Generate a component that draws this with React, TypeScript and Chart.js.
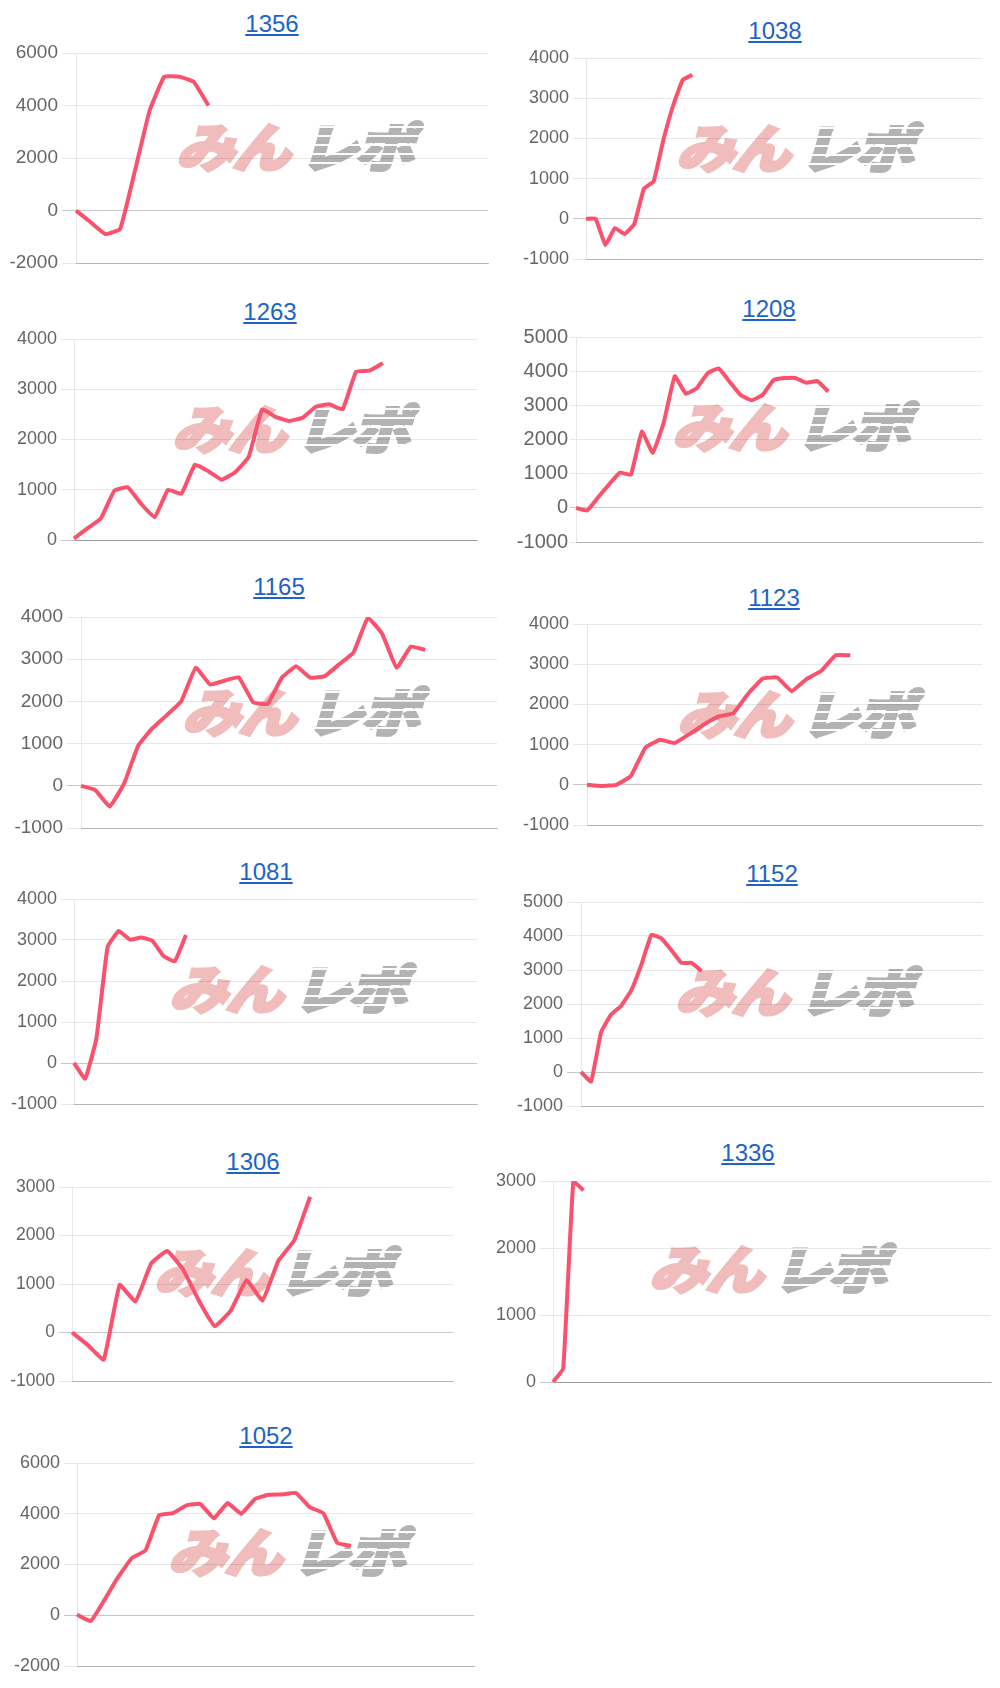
import React, { useEffect, useRef } from "react";
import { Chart, registerables } from "chart.js";

Chart.register(...registerables);

// ---- data ----
const titles = ["1356", "1038", "1263", "1208", "1165", "1123", "1081", "1152", "1306", "1336", "1052"];
const slotCounts = [29, 42, 31, 38, 30, 28, 37, 41, 25, 44, 30];
const yMins = [-2000, -1000, 0, -1000, -1000, -1000, -1000, -1000, -1000, 0, -2000];
const yMaxs = [6000, 4000, 4000, 5000, 4000, 4000, 4000, 5000, 3000, 3000, 6000];
const ySteps = [2000, 1000, 1000, 1000, 1000, 1000, 1000, 1000, 1000, 1000, 2000];

const s1356 = [0, -450, -900, -700, 1500, 3800, 5100, 5100, 4900, 4000];
const s1038 = [0, 0, -650, -230, -380, -130, 750, 930, 1950, 2800, 3450, 3580];
const s1263 = [30, 230, 430, 980, 1050, 720, 450, 1000, 920, 1500, 1370, 1200, 1350, 1650, 2600, 2450, 2370, 2430, 2650, 2700, 2600, 3350, 3370, 3520];
const s1208 = [0, -80, 300, 680, 1030, 970, 2230, 1610, 2500, 3850, 3340, 3500, 3940, 4080, 3690, 3300, 3150, 3300, 3740, 3800, 3800, 3660, 3710, 3400];
const s1165 = [0, -100, -490, 50, 960, 1370, 1680, 2010, 2800, 2400, 2490, 2570, 1980, 1940, 2560, 2830, 2560, 2600, 2880, 3160, 3980, 3600, 2800, 3300, 3220];
const s1123 = [0, -30, 0, 220, 930, 1120, 1040, 1260, 1500, 1700, 1780, 2260, 2640, 2670, 2330, 2630, 2830, 3220, 3220];
const s1081 = [0, -380, 600, 2830, 3220, 3010, 3060, 2980, 2610, 2480, 3120];
const s1152 = [0, -280, 1170, 1690, 1950, 2400, 3150, 4030, 3930, 3580, 3210, 3210, 2970];
const s1306 = [0, -260, -560, 980, 640, 1430, 1680, 1300, 650, 130, 450, 1080, 660, 1480, 1900, 2800];
const s1336 = [0, 200, 3000, 2860];
const s1052 = [30, -230, 600, 1500, 2250, 2550, 3940, 4020, 4330, 4390, 3820, 4420, 4000, 4580, 4750, 4760, 4820, 4260, 4020, 2860, 2730];

const SERIES = [s1356, s1038, s1263, s1208, s1165, s1123, s1081, s1152, s1306, s1336, s1052];

// ---- layout (page pixel positions) ----
type Lay = {
  axisX: number; right: number; top: number; bottom: number;
  font: number; tick: number; pad: number;
  titleX: number; titleTop: number; wmX: number; wmY: number;
};
const LAYOUT: Lay[] = [
  { axisX: 76, right: 488, top: 53, bottom: 263, font: 19, tick: 14, pad: 4, titleX: 272, titleTop: 15, wmX: 300, wmY: 145 },
  { axisX: 586, right: 982, top: 58, bottom: 259, font: 18, tick: 13, pad: 4, titleX: 775, titleTop: 22, wmX: 800, wmY: 146 },
  { axisX: 74, right: 477, top: 339, bottom: 540, font: 18, tick: 13, pad: 4, titleX: 270, titleTop: 303, wmX: 296, wmY: 427 },
  { axisX: 576, right: 982, top: 337, bottom: 542, font: 20, tick: 6, pad: 2, titleX: 769, titleTop: 300, wmX: 796, wmY: 425 },
  { axisX: 81, right: 497, top: 617, bottom: 828, font: 19, tick: 14, pad: 4, titleX: 279, titleTop: 578, wmX: 306, wmY: 710 },
  { axisX: 587, right: 982, top: 624, bottom: 825, font: 18, tick: 14, pad: 4, titleX: 774, titleTop: 589, wmX: 801, wmY: 712 },
  { axisX: 74, right: 477, top: 899, bottom: 1104, font: 18, tick: 13, pad: 4, titleX: 266, titleTop: 863, wmX: 293, wmY: 987 },
  { axisX: 581, right: 983, top: 902, bottom: 1106, font: 18, tick: 14, pad: 4, titleX: 772, titleTop: 865, wmX: 799, wmY: 990 },
  { axisX: 72, right: 453, top: 1187, bottom: 1381, font: 17.5, tick: 13, pad: 4, titleX: 253, titleTop: 1153, wmX: 278, wmY: 1270 },
  { axisX: 553, right: 991, top: 1181, bottom: 1382, font: 18, tick: 13, pad: 4, titleX: 748, titleTop: 1144, wmX: 773, wmY: 1267 },
  { axisX: 77, right: 474, top: 1463, bottom: 1666, font: 18, tick: 13, pad: 4, titleX: 266, titleTop: 1427, wmX: 292, wmY: 1550 },
];

const LINE_COLOR = "rgb(250, 82, 108)";
const GRID = "rgba(0,0,0,0.09)";
const ZERO = "rgba(0,0,0,0.22)";
const FONT = '"Liberation Sans", Arial, Helvetica, sans-serif';
const AXIS_W = 76;
const PAD_V = 16;

function Watermark({ x, y }: { x: number; y: number }) {
  const pink = "#f1bcbc";
  const gray = "#b3b3b3";
  return (
    <div
      style={{
        position: "absolute",
        left: x,
        top: y,
        transform: "translate(-50%, -50%) skewX(-16deg) scaleX(1.12)",
        whiteSpace: "nowrap",
        fontFamily: '"Noto Sans CJK JP", sans-serif',
        fontWeight: 900,
        fontSize: 52,
        lineHeight: 1,
        letterSpacing: -2,
        userSelect: "none",
        display: "flex",
        alignItems: "center",
      }}
    >
      <span style={{ color: pink, WebkitTextStroke: `3px ${pink}` } as any}>みん</span>
      <span style={{ position: "relative", marginLeft: 10, display: "inline-block" }}>
        <span style={{ color: gray, WebkitTextStroke: `3px ${gray}` } as any}>レポ</span>
        <span
          style={{
            position: "absolute",
            left: -4,
            right: -4,
            top: 0,
            bottom: 0,
            backgroundImage:
              "repeating-linear-gradient(180deg, rgba(255,255,255,0) 0px, rgba(255,255,255,0) 7px, rgba(255,255,255,0.95) 7px, rgba(255,255,255,0.95) 9px)",
          }}
        />
      </span>
    </div>
  );
}

function Panel({ idx }: { idx: number }) {
  const ref = useRef<HTMLCanvasElement>(null);
  const L = LAYOUT[idx];
  const canvasLeft = L.axisX - AXIS_W;
  const canvasTop = L.top - PAD_V;
  const cw = L.right + 8 - canvasLeft;
  const ch = L.bottom - L.top + PAD_V * 2;

  useEffect(() => {
    if (!ref.current) return;
    const labels = Array.from({ length: slotCounts[idx] }, (_, i) => String(i + 1));
    const chart = new Chart(ref.current, {
      type: "line",
      data: {
        labels,
        datasets: [
          {
            data: SERIES[idx],
            borderColor: LINE_COLOR,
            backgroundColor: LINE_COLOR,
            borderWidth: 4,
            pointRadius: 0,
            pointHoverRadius: 0,
            tension: 0.1,
            fill: false,
            borderJoinStyle: "round",
          },
        ],
      },
      options: {
        animation: false,
        responsive: false,
        devicePixelRatio: 1,
        events: [],
        layout: { padding: { left: 0, top: PAD_V, right: 8, bottom: PAD_V } },
        plugins: { legend: { display: false }, tooltip: { enabled: false }, title: { display: false } },
        scales: {
          x: {
            display: true,
            grid: { display: false, drawTicks: false, tickLength: 0 },
            ticks: { display: false },
            border: { display: true, color: ZERO, width: 1 },
          },
          y: {
            min: yMins[idx],
            max: yMaxs[idx],
            afterFit: (s: any) => {
              s.width = AXIS_W;
            },
            ticks: {
              stepSize: ySteps[idx],
              padding: L.pad,
              color: "#666",
              font: { family: FONT, size: L.font },
              callback: (v: any) => String(v),
            },
            grid: {
              color: (c: any) => (c.tick && c.tick.value === 0 ? ZERO : GRID),
              tickLength: L.tick,
              lineWidth: 1,
            },
            border: { display: true, color: GRID, width: 1 },
          },
        },
      },
    } as any);
    return () => chart.destroy();
  }, [idx]);

  return (
    <>
      <div
        style={{
          position: "absolute",
          left: L.titleX - 100,
          top: L.titleTop - 3,
          width: 200,
          textAlign: "center",
          fontFamily: FONT,
          fontSize: 24,
          lineHeight: "24px",
        }}
      >
        <a href="#" style={{ color: "#1d63c8", textDecoration: "underline" }}>
          {titles[idx]}
        </a>
      </div>
      <Watermark x={L.wmX} y={L.wmY} />
      <canvas
        ref={ref}
        width={cw}
        height={ch}
        style={{ position: "absolute", left: canvasLeft, top: canvasTop, width: cw, height: ch }}
      />
    </>
  );
}

export default function App() {
  return (
    <div
      style={{
        position: "absolute",
        left: 0,
        top: 0,
        width: 1000,
        height: 1688,
        background: "#fff",
        overflow: "hidden",
      }}
    >
      {titles.map((_, i) => (
        <Panel key={i} idx={i} />
      ))}
    </div>
  );
}
